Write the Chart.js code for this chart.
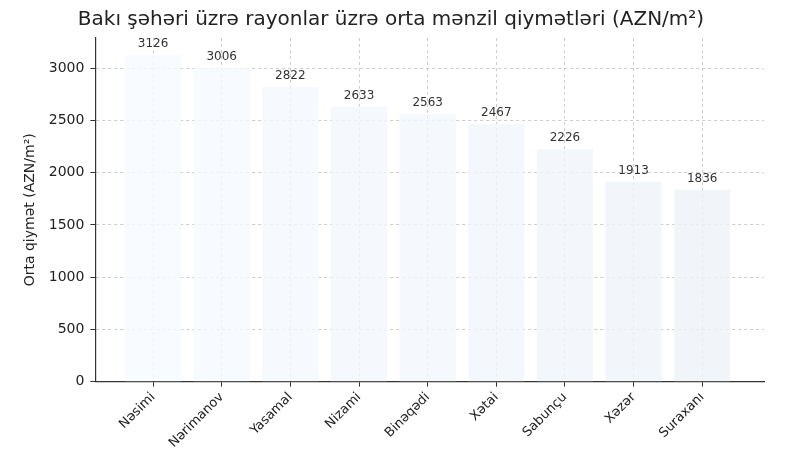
<!DOCTYPE html>
<html><head><meta charset="utf-8">
<script src="https://cdn.jsdelivr.net/npm/chart.js@4"></script>
<style>html,body{margin:0;background:#fff}#w{width:800px;height:460px}</style>
</head><body><div id="w"><canvas id="c"></canvas></div>
<script>
const categories=["Nəsimi","Nərimanov","Yasamal","Nizami","Binəqədi","Xətai","Sabunçu","Xəzər","Suraxanı"];
const values=[3126,3006,2822,2633,2563,2467,2226,1913,1836];
const barColors=["rgba(246,250,255,0.8)","rgba(245,249,254,0.8)","rgba(244,248,253,0.8)","rgba(243,247,252,0.8)","rgba(242,246,252,0.8)","rgba(241,245,251,0.8)","rgba(240,244,250,0.8)","rgba(239,243,249,0.8)","rgba(238,242,248,0.8)"];
const yTicks=[0,500,1000,1500,2000,2500,3000];
const font="'DejaVu Sans', sans-serif";
const labelsPlugin={id:'lbl',afterDatasetsDraw(ch){const ctx=ch.ctx;const m=ch.getDatasetMeta(0);ctx.save();ctx.font="12px "+font;ctx.fillStyle="#333";ctx.textAlign="center";ctx.textBaseline="bottom";m.data.forEach((b,i)=>ctx.fillText(values[i],b.x,b.y-5));ctx.restore();}};
new Chart(document.getElementById('c'),{type:'bar',
data:{datasets:[{data:values.map((v,i)=>({x:i,y:v})),backgroundColor:barColors,barPercentage:0.82,categoryPercentage:1}]},
options:{responsive:true,maintainAspectRatio:false,animation:false,
layout:{padding:{left:18,right:36,top:2,bottom:6}},
plugins:{legend:{display:false},tooltip:{enabled:false},
title:{display:true,text:"Bakı şəhəri üzrə rayonlar üzrə orta mənzil qiymətləri (AZN/m²)",font:{family:font,size:20,weight:'normal'},color:'#222',padding:{top:6,bottom:6}}},
scales:{
x:{type:'linear',min:-0.84,max:8.9,offset:false,
afterBuildTicks(a){a.ticks=categories.map((c,i)=>({value:i}));},
ticks:{callback:(v)=>categories[v],maxRotation:45,minRotation:45,autoSkip:false,font:{family:font,size:13},color:'#222'},
grid:{offset:false,color:'#cccccc',tickColor:'#333',tickLength:5},
border:{color:'#333',width:1.2,dash:[3,3]}},
y:{min:0,max:3290,
afterBuildTicks(a){a.ticks=yTicks.map(v=>({value:v}));},
ticks:{callback:(v)=>String(v),font:{family:font,size:14},color:'#222',padding:6},
title:{display:true,text:"Orta qiymət (AZN/m²)",font:{family:font,size:14},color:'#222'},
grid:{color:'#cccccc',tickColor:'#333',tickLength:5},
border:{color:'#333',width:1.2,dash:[3,3]}}}},
plugins:[labelsPlugin]});
</script></body></html>
